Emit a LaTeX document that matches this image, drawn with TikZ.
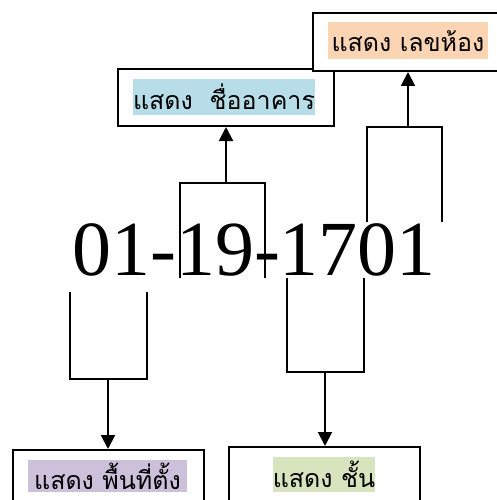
\documentclass[tikz,border=0pt]{standalone}
\usepackage{fontspec}
\setmainfont{Liberation Serif}
\newfontfamily\thaifont[Script=Thai]{Loma}
\usetikzlibrary{arrows.meta}
\definecolor{hlorange}{HTML}{FBD4B4}
\definecolor{hlblue}{HTML}{B6DDE8}
\definecolor{hlpurple}{HTML}{CCC0DA}
\definecolor{hlgreen}{HTML}{D7E4BD}
\tikzset{
  labelbox/.style={draw=black, line width=2pt, fill=white, inner sep=0pt, anchor=north west},
  hl/.style={inner sep=0pt, font=\thaifont\fontsize{25}{28}\selectfont, text=black},
  bracket/.style={line width=1.4pt, line join=miter},
  arr/.style={line width=2pt, -{Triangle[width=14pt,length=14pt]}},
  bignum/.style={inner sep=0pt, font=\fontsize{78}{90}\selectfont, anchor=base}
}
\begin{document}
\begin{tikzpicture}[x=1pt,y=-1pt]
\useasboundingbox (0,0) rectangle (496,500);
% number
\node[bignum] (num) at (254,275) {01-19-1701};
% boxes
\node[labelbox, minimum width=216pt, minimum height=57pt] (bldg) at (117,68) {};
\node[labelbox, minimum width=200pt, minimum height=58pt] (room) at (312,12) {};
\node[labelbox, minimum width=191pt, minimum height=60pt] (area) at (12,449) {};
\node[labelbox, minimum width=191pt, minimum height=60pt] (floor) at (228,446) {};
% highlighted labels
\node[hl, fill=hlorange, minimum width=160pt, minimum height=37pt] (troom) at (408,41) {แสดง เลขห้อง};
\node[hl, fill=hlblue, minimum width=172pt, minimum height=36pt] (tbldg) at (224,97) {แสดง~~ชื่ออาคาร};
\node[hl, fill=hlpurple, minimum width=159pt, minimum height=32pt] (tarea) at (107.5,476) {แสดง พื้นที่ตั้ง};
\node[hl, fill=hlgreen, minimum width=98pt, minimum height=35pt] (tfloor) at (324,474.5) {แสดง ชั้น};
% brackets
\coordinate (c19) at (226,183);
\coordinate (c1701) at (408,127);
\coordinate (c01) at (108,379);
\coordinate (cfl) at (325,372);
\draw[bracket] (180,278) -- (180,183) -- (265,183) -- (265,278);
\draw[bracket] (367,222) -- (367,127) -- (442,127) -- (442,222);
\draw[bracket] (70,292) -- (70,379) -- (147,379) -- (147,292);
\draw[bracket] (287,278) -- (287,372) -- (364,372) -- (364,278);
% arrows
\draw[arr] (c19) -- (c19 |- bldg.south);
\draw[arr] (c1701) -- (c1701 |- room.south);
\draw[arr] (c01) -- (c01 |- area.north);
\draw[arr] (cfl) -- (cfl |- floor.north);
\end{tikzpicture}
\end{document}
